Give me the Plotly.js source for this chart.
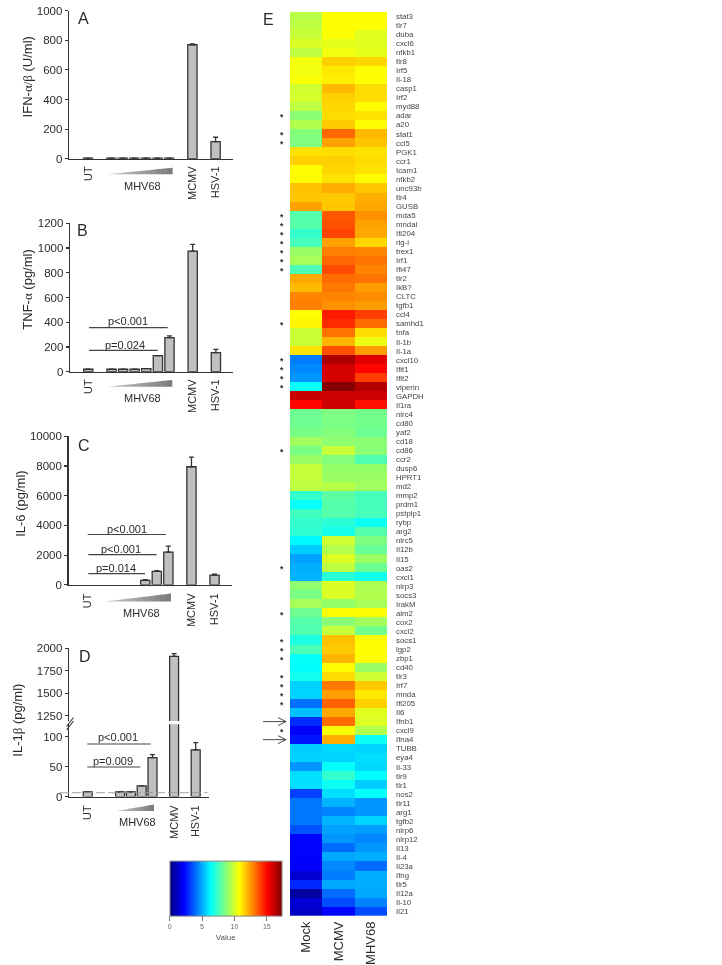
<!DOCTYPE html>
<html><head><meta charset="utf-8">
<script src="https://cdn.plot.ly/plotly-3.0.1.min.js"></script>
<style>html,body{margin:0;padding:0;background:#fff}#c{width:722px;height:965px;filter:blur(0.35px)}</style>
</head><body><div id="c"></div>
<script>
// ---------- data ----------
const catsAB = ['UT',' ','m1','m2','m3','m4','m5','m6','  ','MCMV','   ','HSV-1'];
const catsD  = ['UT',' ','  ','m1','m2','m3','m4','   ','MCMV','    ','HSV-1'];
const tickCats = ['UT','MCMV','HSV-1'];

const valuesA = [3,null,3,3,3,3,3,3,null,770,null,115];
const errorsA = [0,0,0,0,0,0,0,0,0,5,0,30];
const valuesB = [20,null,20,20,20,25,130,275,null,975,null,155];
const errorsB = [0,0,0,0,0,0,0,15,0,55,0,25];
const valuesC = [null,null,null,null,null,300,900,2200,null,7950,null,650];
const errorsC = [0,0,0,0,0,50,50,400,0,650,0,70];
const valuesD = [8,null,null,8,8,18,65,null,1910,null,78];
const errorsD = [0,0,0,0,0,0,5,0,30,0,12];

const geneLabels = ['stat3','tlr7','duba','cxcl6','nfkb1','tlr8','Irf5','Il-18','casp1','Irf2',
 'myd88','adar','a20','stat1','ccl5','PGK1','ccr1','Icam1','nfkb2','unc93b',
 'tlr4','GUSB','mda5','mndal','Ifi204','rig-i','trex1','Irf1','Ifi47','tlr2',
 'IkB?','CLTC','tgfb1','ccl4','samhd1','tnfa','Il-1b','Il-1a','cxcl10','Ifit1',
 'Ifit2','viperin','GAPDH','Il1ra','nlrc4','cd80','yaf2','cd18','cd86','ccr2',
 'dusp6','HPRT1','md2','mmp2','prdm1','pstpip1','rybp','arg2','nlrc5','Il12b',
 'Il15','oas2','cxcl1','nlrp3','socs3','IrakM','aim2','cox2','cxcl2','socs1',
 'lgp2','zbp1','cd40','tlr3','Irf7','mnda','Ifi205','Il6','Ifnb1','cxcl9',
 'Ifna4','TUBB','eya4','Il-33','tlr9','tlr1','nos2','tlr11','arg1','tgfb2',
 'nlrp6','nlrp12','Il13','Il-4','Il23a','Ifng','tlr5','Il12a','Il-10','Il21'];
const mockValues = [9.5,9.6,9.8,10.1,9.6,10.5,10.5,10.6,9.9,10,
 9.6,8.7,9.4,8.6,8.5,11.2,11.5,10.8,10.8,11.8,
 11.7,12.3,7.8,7.8,7.2,7.5,9.0,9.2,7.6,12.2,
 11.9,12.8,12.9,10.7,10.9,9.8,9.8,11.2,4.2,4.4,
 4.6,6.4,16.0,15,8.2,8.2,8.4,9.1,8.4,9.0,
 9.7,9.7,9.6,7.2,6.4,7.4,7.2,7.1,6.2,5.5,
 4.8,5,5.1,8.8,8.4,9.2,8.2,7.8,7.7,6.8,
 7.6,6.4,6.3,6.6,5.6,5.6,4,5.3,2.9,2.1,
 2.5,5.5,5.6,4.6,5.8,5.8,3.2,4.1,4.1,4.1,
 3.5,2.2,2.2,2.2,2.1,1.4,2.8,0.6,1.4,1.2];
const mcmvValues = [10.7,10.7,10.7,10.3,10.5,11.5,11.1,11.0,11.9,11.5,
 11.4,11.3,11.6,13.3,12.3,11.3,11.5,11.4,11.2,12.1,
 11.6,11.7,13.6,13.7,13.9,12.3,12.9,13.3,13.8,13.2,
 13,12.8,12.6,14.6,14.3,13.1,12,13.7,16.5,15.8,
 15.8,17.2,15.9,15.9,8.5,8.4,8.6,8.8,9.8,8.6,
 8.9,9,9.5,7.9,7.8,7.8,7,6.7,9.9,9.4,
 10.1,9.6,7,10.1,10.1,8.9,10.7,8.7,9.7,11.8,
 11.6,12,10.7,11.3,13,12.4,13.4,12.2,13.2,10.6,
 12.1,5.7,5.6,6.4,7.2,6.5,5.8,5.1,4.3,5.1,
 4.8,4.6,3.9,4.9,4.4,4.2,4.9,3.9,3.4,2.2];
const mhv68Values = [10.7,10.7,10.2,10.2,10.3,11.4,10.7,10.7,11.3,11.3,
 10.8,11.2,10.8,11.9,11.7,11.2,11.3,11.2,10.8,11.7,
 12.1,12.2,12.6,12.3,12.2,11.4,12.8,13.1,12.8,13.1,
 12.4,12.7,12.4,14,13.2,11.3,10.4,12.4,15.6,15,
 14,16.4,15.9,14.8,8.3,8.3,8.2,8.7,8.7,7.7,
 8.9,9,9.1,7.5,7.5,7.5,6.5,7.8,8.5,8.1,
 9,8.2,6.6,9.3,9.4,9.2,10.7,9.1,8.3,10.8,
 10.7,10.7,9,9.9,11.6,11.1,11.5,10.2,10.1,9.4,
 6.5,5.6,5.8,5.7,6.3,5.5,6.4,4.6,4.6,5.6,
 4.7,4.4,4.6,5,3.9,5,5,4.9,4.3,3.4];
const starGenes = ['adar','stat1','ccl5','mda5','mndal','Ifi204','rig-i','trex1','Irf1','Ifi47','samhd1',
 'cxcl10','Ifit1','Ifit2','viperin','cd86','oas2','aim2','socs1','lgp2','zbp1','tlr3','Irf7','mnda','Ifi205','cxcl9'];
const arrowGenes = ['Ifnb1','Ifna4'];
const heatColumns = ['Mock','MCMV','MHV68'];

// ---------- helpers ----------
const W = 722, H = 965, FONT = '"Liberation Sans", Arial, sans-serif', INK = '#2b2b2b';
const px = x => x / W, py = y => 1 - y / H;
const greek = s => '<span style="font-family:\'Liberation Serif\'">' + s + '</span>';
const shapes = [], annotations = [];

function label(text, x, y, size, extra) {
  annotations.push(Object.assign({text, x: px(x), y: py(y), xref: 'paper', yref: 'paper',
    xanchor: 'center', yanchor: 'middle', showarrow: false,
    font: {family: FONT, size, color: INK}}, extra || {}));
}
function line(x0, y0, x1, y1, color, width, dash) {
  shapes.push({type: 'line', xref: 'paper', yref: 'paper', x0: px(x0), y0: py(y0), x1: px(x1), y1: py(y1),
    line: {color: color || '#444', width: width || 1.2, dash: dash || 'solid'}});
}
function wedge(x0, x1, yTop, yBot) {
  const n = 12;
  for (let i = 0; i < n; i++) {
    const a = x0 + (x1 - x0) * i / n, b = x0 + (x1 - x0) * (i + 1) / n + 0.6;
    const ta = yBot - (yBot - yTop) * i / n, tb = yBot - (yBot - yTop) * (i + 1) / n;
    const g = Math.round(205 - 80 * (i + 1) / n), col = `rgb(${g},${g},${g})`;
    shapes.push({type: 'path', xref: 'paper', yref: 'paper', layer: 'above', fillcolor: col,
      line: {width: 0, color: col},
      path: `M${px(a)},${py(yBot)} L${px(a)},${py(ta)} L${px(Math.min(b, x1))},${py(tb)} L${px(Math.min(b, x1))},${py(yBot)} Z`});
  }
}
function bars(cats, vals, errs, xa, ya, width) {
  return {type: 'bar', x: cats, y: vals, xaxis: xa, yaxis: ya, width,
    marker: {color: '#c0c0c0', line: {color: '#333', width: 1.3}},
    error_y: {type: 'data', symmetric: false, array: errs, arrayminus: errs.map(() => 0),
      color: '#333', thickness: 1.3, width: 2.5},
    hoverinfo: 'x+y', showlegend: false};
}

const layout = {width: W, height: H, margin: {l: 0, r: 0, t: 0, b: 0}, paper_bgcolor: '#fff', plot_bgcolor: 'rgba(0,0,0,0)',
  showlegend: false, shapes, annotations, font: {family: FONT, color: INK}, bargap: 0};

function panelAxes(n, box, yRange, dtick, cats, utX, step, standoff) {
  layout['xaxis' + n] = {domain: [px(box.l), px(box.r)], anchor: 'y' + n, type: 'category',
    categoryorder: 'array', categoryarray: cats,
    range: [(box.l - utX) / step, (box.r - utX) / step], showgrid: false, zeroline: false,
    showline: true, linecolor: '#333', linewidth: 1.3, ticks: '', tickmode: 'array', tickvals: tickCats, ticktext: tickCats,
    tickangle: -90, tickfont: {family: FONT, size: 11, color: INK}, ticklabelstandoff: standoff};
  layout['yaxis' + n] = {domain: [py(box.b), py(box.t)], anchor: 'x' + n, range: yRange, dtick,
    showgrid: false, zeroline: false, showline: true, linecolor: '#333', linewidth: 1.3,
    ticks: 'outside', ticklen: 3, tickcolor: '#333', tickwidth: 1.1, tickformat: 'd',
    tickfont: {family: FONT, size: 11.5, color: INK}};
}

// ---------- panels A-C ----------
panelAxes('',  {l: 69, r: 233, t: 10.7, b: 158.7}, [0, 1000], 200, catsAB, 88, 11.6, 2);
panelAxes('2', {l: 70, r: 233, t: 223.3, b: 371.7}, [0, 1200], 200, catsAB, 88.3, 11.6, 2);
panelAxes('3', {l: 68.5, r: 232, t: 436.3, b: 584.8}, [0, 10000], 2000, catsAB, 87.5, 11.55, 3);

const traces = [
  bars(catsAB, valuesA, errorsA, 'x', 'y', 0.8),
  bars(catsAB, valuesB, errorsB, 'x2', 'y2', 0.8),
  bars(catsAB, valuesC, errorsC, 'x3', 'y3', 0.8)
];

label('A', 83, 18.3, 16);
label('IFN-' + greek('α/β') + ' (U/ml)', 27.7, 76.7, 13, {textangle: -90});
wedge(106.7, 172.7, 167.7, 174.3);
label('MHV68', 142.7, 185.7, 11);

label('B', 82, 230.7, 16);
label('TNF-' + greek('α') + ' (pg/ml)', 27.7, 290, 13, {textangle: -90});
line(89, 327.7, 167.7, 327.7); line(89, 350.3, 157.7, 350.3);
label('p<0.001', 128.3, 320.7, 11); label('p=0.024', 125.3, 345, 11);
wedge(106.7, 172.3, 380, 386.7);
label('MHV68', 142.3, 398.3, 11);

label('C', 84, 445, 16);
label('IL-6 (pg/ml)', 21, 503.8, 13, {textangle: -90});
line(87.7, 534.5, 166, 534.5); line(88.3, 554.6, 156.7, 554.6); line(88.3, 573.7, 145, 573.7);
label('p<0.001', 127, 528.6, 11); label('p<0.001', 121, 548.7, 11); label('p=0.014', 116, 567.5, 11);
wedge(105, 171, 593.5, 601.5);
label('MHV68', 141, 612.6, 11);

// ---------- panel D (broken axis) ----------
panelAxes('4', {l: 69, r: 209, t: 724.3, b: 796.6}, [0, 120.5], 50, catsD, 87.7, 10.8, 3);
layout.xaxis5 = {domain: layout.xaxis4.domain, anchor: 'y5', type: 'category', categoryorder: 'array', categoryarray: catsD,
  range: layout.xaxis4.range, visible: false};
layout.yaxis5 = Object.assign({}, layout.yaxis4, {domain: [py(721), py(648.3)], anchor: 'x5', range: [1190, 2000],
  tickmode: 'array', tickvals: [1250, 1500, 1750, 2000], dtick: undefined});
traces.push(bars(catsD, valuesD, errorsD, 'x4', 'y4', 0.83));
traces.push(bars(catsD, valuesD, errorsD, 'x5', 'y5', 0.83));

label('D', 85, 656, 16);
label('IL-1' + greek('β') + ' (pg/ml)', 16.7, 720, 13, {textangle: -90});
line(87.3, 744, 150.7, 744); line(87.3, 767, 140.3, 767);
label('p<0.001', 118, 737.3, 11); label('p=0.009', 113.3, 761, 11);
line(60, 792.7, 207.7, 792.7, '#999', 0.9, '9px,3px');
line(66.5, 726.5, 73.5, 717.5, '#333', 1.1); line(66.5, 730, 73.5, 721, '#333', 1.1);
wedge(116, 154, 804.5, 811);
label('MHV68', 137, 821.5, 11);

// ---------- panel E heat map ----------
const heatTop = 11.7, heatBottom = 916, rowH = (heatBottom - heatTop) / geneLabels.length;
const rowY = g => heatTop + (geneLabels.indexOf(g) + 0.5) * rowH;
traces.push({type: 'heatmap', x: heatColumns, y: geneLabels,
  z: geneLabels.map((g, i) => [mockValues[i], mcmvValues[i], mhv68Values[i]]),
  xaxis: 'x6', yaxis: 'y6', zmin: 0, zmax: 17.3, zsmooth: false,
  colorscale: [[0, '#000080'], [0.125, '#0000ff'], [0.365, '#00ffff'], [0.62, '#ffff00'], [0.87, '#ff0000'], [1, '#800000']],
  colorbar: {orientation: 'h', lenmode: 'pixels', len: 111.7, thicknessmode: 'pixels', thickness: 55,
    x: px(169.7), xanchor: 'left', y: py(942), yanchor: 'bottom', xpad: 0, ypad: 0,
    outlinecolor: '#888', outlinewidth: 1, tickmode: 'array', tickvals: [0, 5, 10, 15], ticks: 'outside', ticklen: 5,
    tickcolor: '#777', tickfont: {family: FONT, size: 7, color: '#666'},
    title: {text: 'Value', side: 'bottom', font: {family: FONT, size: 8, color: '#555'}}}});
layout.xaxis6 = {domain: [px(290), px(387)], anchor: 'y6', type: 'category', ticks: '', showgrid: false, zeroline: false,
  tickangle: -90, tickfont: {family: FONT, size: 13, color: INK}, ticklabelstandoff: 2};
layout.yaxis6 = {domain: [py(heatBottom), py(heatTop)], anchor: 'x6', side: 'right', type: 'category', autorange: 'reversed',
  tickmode: 'array', tickvals: geneLabels, ticktext: geneLabels, ticks: '', showgrid: false, zeroline: false,
  tickfont: {family: FONT, size: 7.8, color: '#444'}, ticklabelstandoff: 8};

starGenes.forEach(g => label('<b>*</b>', 282.3, rowY(g) + 1.5, 8.5));
arrowGenes.forEach(g => {
  const y = rowY(g);
  line(263, y, 286, y, '#333', 0.9);
  line(278, y - 4, 286, y, '#333', 0.9);
  line(278, y + 4, 286, y, '#333', 0.9);
});
label('E', 268, 19, 16);

Plotly.newPlot('c', traces, layout, {displayModeBar: false, staticPlot: true});
</script></body></html>
